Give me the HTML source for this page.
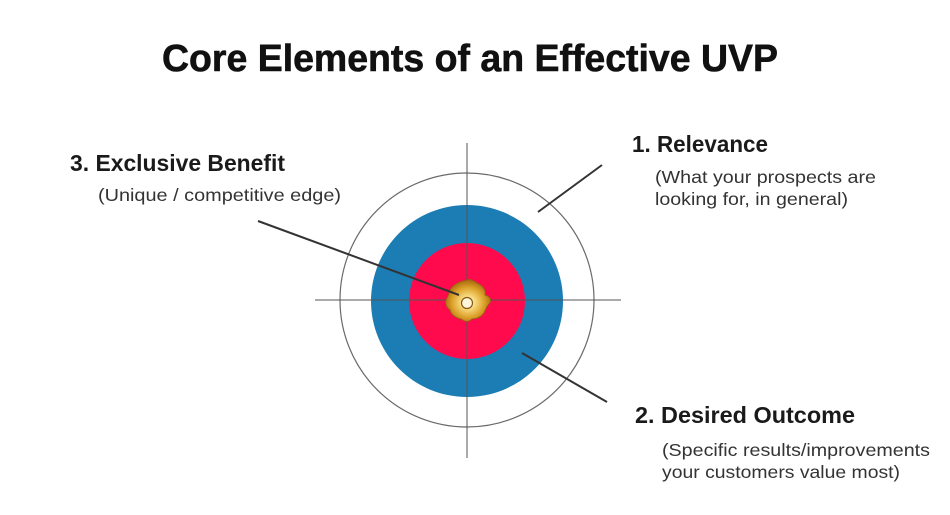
<!DOCTYPE html>
<html>
<head>
<meta charset="utf-8">
<style>
  html, body { margin:0; padding:0; background:#ffffff; }
  body { width:950px; height:515px; overflow:hidden; }
  svg { display:block; }
  text { font-family: "Liberation Sans", "DejaVu Sans", sans-serif; }
</style>
</head>
<body>
<svg width="950" height="515" viewBox="0 0 950 515" xmlns="http://www.w3.org/2000/svg">
  <defs>
    <radialGradient id="gold" cx="50%" cy="55%" r="55%">
      <stop offset="0%" stop-color="#fffbe6"/>
      <stop offset="30%" stop-color="#f6d77a"/>
      <stop offset="65%" stop-color="#dca12a"/>
      <stop offset="100%" stop-color="#a4640e"/>
    </radialGradient>
  </defs>
  <rect x="0" y="0" width="950" height="515" fill="#ffffff"/>

  <!-- Title -->
  <text x="162" y="71" font-size="38" font-weight="bold" fill="#111" stroke="#111" stroke-width="0.6" textLength="616" lengthAdjust="spacingAndGlyphs">Core Elements of an Effective UVP</text>

  <!-- Target -->
  <circle cx="467" cy="300" r="127" fill="#ffffff" stroke="#6a6a6a" stroke-width="1.2"/>
  <circle cx="467" cy="301" r="96" fill="#1b7db3"/>
  <circle cx="467" cy="301" r="58" fill="#ff0a4c"/>

  <!-- crosshair -->
  <line x1="315" y1="300" x2="621" y2="300" stroke="#555" stroke-width="1"/>
  <line x1="467" y1="143" x2="467" y2="458" stroke="#555" stroke-width="1"/>

  <!-- gold center blob -->
  <path d="M467 280 C471 278 475 282 479 284 C483 286 486 290 485 295 C489 296 492 299 490 303 C487 305 486 309 484 313 C481 317 477 319 472 319 C469 322 465 322 461 319 C456 318 451 315 450 310 C446 307 444 302 447 298 C449 295 449 290 452 287 C456 283 461 281 467 280 Z" fill="url(#gold)" stroke="#9a5c10" stroke-width="0.8"/>
  <circle cx="467" cy="303" r="5.5" fill="#fff6dc" stroke="#8a5512" stroke-width="1.2"/>

  <!-- pointer lines -->
  <line x1="258" y1="221" x2="459" y2="295" stroke="#333" stroke-width="2"/>
  <line x1="602" y1="165" x2="538" y2="212" stroke="#333" stroke-width="2"/>
  <line x1="522" y1="353" x2="607" y2="402" stroke="#333" stroke-width="2"/>

  <!-- Label 1 -->
  <text x="632" y="152" font-size="23" font-weight="bold" fill="#1a1a1a" textLength="136" lengthAdjust="spacingAndGlyphs">1. Relevance</text>
  <text x="655" y="183" font-size="17.5" fill="#333" textLength="221" lengthAdjust="spacingAndGlyphs">(What your prospects are</text>
  <text x="655" y="205" font-size="17.5" fill="#333" textLength="193" lengthAdjust="spacingAndGlyphs">looking for, in general)</text>

  <!-- Label 3 -->
  <text x="70" y="171" font-size="23" font-weight="bold" fill="#1a1a1a" textLength="215" lengthAdjust="spacingAndGlyphs">3. Exclusive Benefit</text>
  <text x="98" y="201" font-size="17.5" fill="#333" textLength="243" lengthAdjust="spacingAndGlyphs">(Unique / competitive edge)</text>

  <!-- Label 2 -->
  <text x="635" y="423" font-size="23" font-weight="bold" fill="#1a1a1a" textLength="220" lengthAdjust="spacingAndGlyphs">2. Desired Outcome</text>
  <text x="662" y="456" font-size="17.5" fill="#333" textLength="268" lengthAdjust="spacingAndGlyphs">(Specific results/improvements</text>
  <text x="662" y="478" font-size="17.5" fill="#333" textLength="238" lengthAdjust="spacingAndGlyphs">your customers value most)</text>
</svg>
</body>
</html>
